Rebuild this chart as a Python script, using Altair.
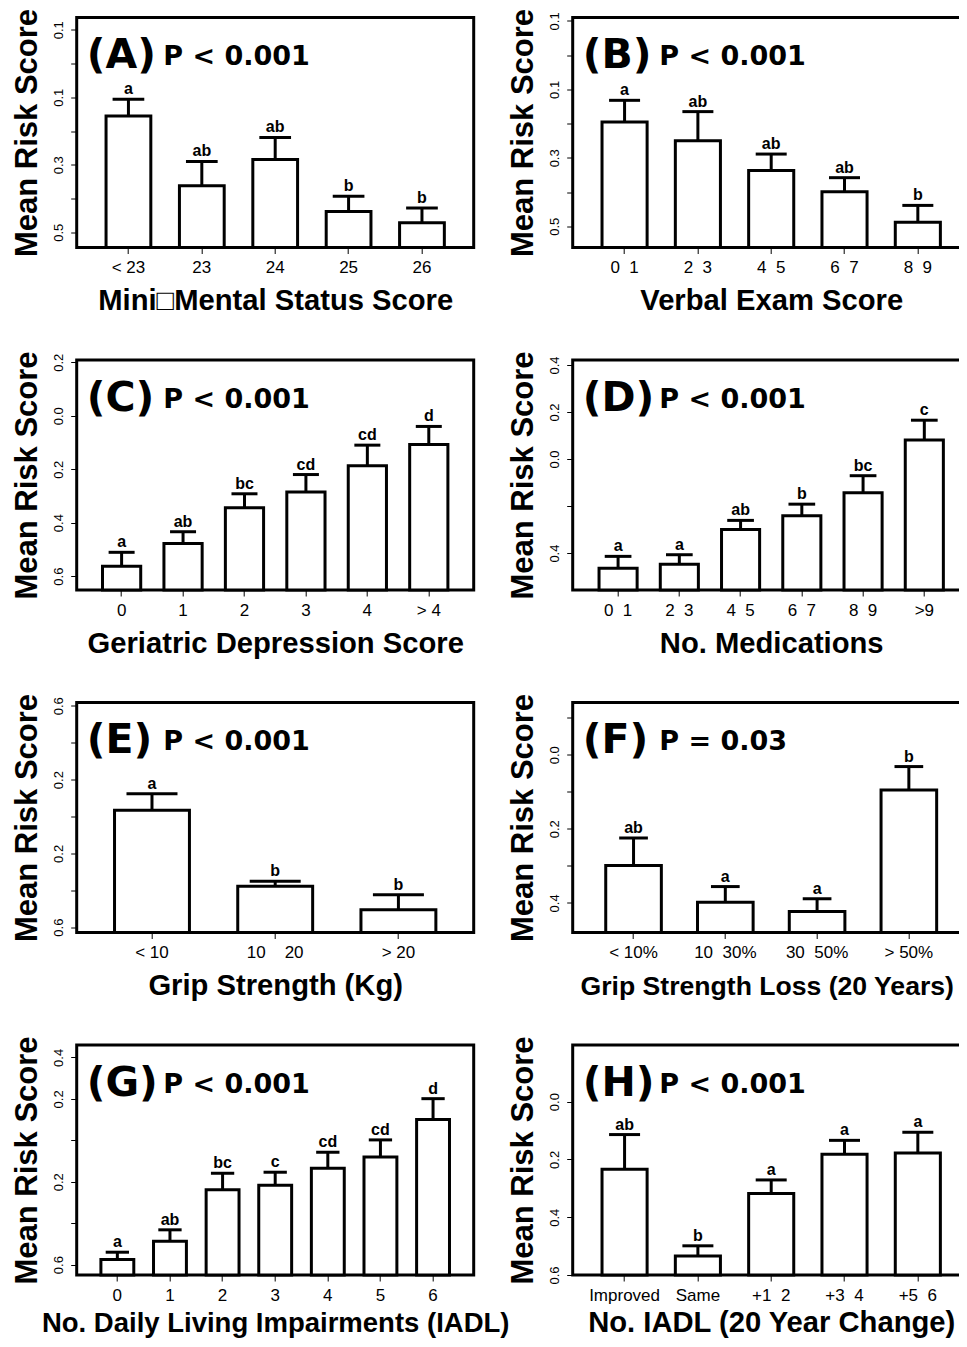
import altair as alt
import pandas as pd

NB = "\u00a0"

# ---------------- data ----------------
A_cats = ["< 23", "23", "24", "25", "26"]
A_means = [-0.155, -0.362, -0.284, -0.438, -0.472]
A_upper = [-0.106, -0.290, -0.219, -0.393, -0.428]
A_letters = ["a", "ab", "ab", "b", "b"]
A_ticks = [0.1, 0.0, -0.1, -0.2, -0.3, -0.4, -0.5]
A_labeled = [0.1, -0.1, -0.3, -0.5]
A_domain = [-0.545, 0.1365]

B_cats = ["0" + NB * 2 + "1", "2" + NB * 2 + "3", "4" + NB * 2 + "5", "6" + NB * 2 + "7", "8" + NB * 2 + "9"]
B_means = [-0.195, -0.250, -0.337, -0.399, -0.488]
B_upper = [-0.132, -0.165, -0.289, -0.358, -0.439]
B_letters = ["a", "ab", "ab", "ab", "b"]
B_ticks = [0.1, 0.0, -0.1, -0.2, -0.3, -0.4, -0.5]
B_labeled = [0.1, -0.1, -0.3, -0.5]
B_domain = [-0.562, 0.110]

C_cats = ["0", "1", "2", "3", "4", "> 4"]
C_means = [-0.563, -0.478, -0.344, -0.285, -0.187, -0.108]
C_upper = [-0.511, -0.434, -0.292, -0.220, -0.110, -0.040]
C_letters = ["a", "ab", "bc", "cd", "cd", "d"]
C_ticks = [0.2, 0.0, -0.2, -0.4, -0.6]
C_labeled = [0.2, 0.0, -0.2, -0.4, -0.6]
C_domain = [-0.652, 0.2086]

D_cats = ["0" + NB * 2 + "1", "2" + NB * 2 + "3", "4" + NB * 2 + "5", "6" + NB * 2 + "7", "8" + NB * 2 + "9", ">9"]
D_means = [-0.465, -0.448, -0.300, -0.241, -0.144, 0.081]
D_upper = [-0.414, -0.407, -0.261, -0.192, -0.071, 0.165]
D_letters = ["a", "a", "ab", "b", "bc", "c"]
D_ticks = [0.4, 0.2, 0.0, -0.2, -0.4]
D_labeled = [0.4, 0.2, 0.0, -0.4]
D_domain = [-0.557, 0.421]

E_cats = ["< 10", "10" + NB * 4 + "20", "> 20"]
E_means = [0.034, -0.378, -0.506]
E_upper = [0.123, -0.351, -0.424]
E_letters = ["a", "b", "b"]
E_ticks = [0.6, 0.4, 0.2, 0.0, -0.2, -0.4, -0.6]
E_labeled = [0.6, 0.2, -0.2, -0.6]
E_domain = [-0.629, 0.618]

F_cats = ["< 10%", "10" + NB * 2 + "30%", "30" + NB * 2 + "50%", "> 50%"]
F_means = [-0.299, -0.398, -0.423, -0.095]
F_upper = [-0.225, -0.356, -0.389, -0.032]
F_letters = ["ab", "a", "a", "b"]
F_ticks = [0.1, 0.0, -0.1, -0.2, -0.3, -0.4]
F_labeled = [0.0, -0.2, -0.4]
F_domain = [-0.480, 0.141]

G_cats = ["0", "1", "2", "3", "4", "5", "6"]
G_means = [-0.575, -0.487, -0.239, -0.217, -0.135, -0.080, 0.100]
G_upper = [-0.540, -0.432, -0.159, -0.154, -0.058, 0.002, 0.201]
G_letters = ["a", "ab", "bc", "c", "cd", "cd", "d"]
G_ticks = [0.4, 0.2, 0.0, -0.2, -0.4, -0.6]
G_labeled = [0.4, 0.2, -0.2, -0.6]
G_domain = [-0.650, 0.460]

H_cats = ["Improved", "Same", "+1" + NB * 2 + "2", "+3" + NB * 2 + "4", "+5" + NB * 2 + "6"]
H_means = [-0.234, -0.534, -0.318, -0.182, -0.178]
H_upper = [-0.114, -0.499, -0.271, -0.134, -0.106]
H_letters = ["ab", "b", "a", "a", "a"]
H_ticks = [0.0, -0.2, -0.4, -0.6]
H_labeled = [0.0, -0.2, -0.4, -0.6]
H_domain = [-0.600, 0.196]

panel_ids = ["(A)", "(B)", "(C)", "(D)", "(E)", "(F)", "(G)", "(H)"]
p_texts = ["P < 0.001", "P < 0.001", "P < 0.001", "P < 0.001", "P < 0.001", "P = 0.03", "P < 0.001", "P < 0.001"]
x_titles = [
    "Mini\u25a1Mental Status Score",
    "Verbal Exam Score",
    "Geriatric Depression Score",
    "No. Medications",
    "Grip Strength (Kg)",
    "Grip Strength Loss (20 Years)",
    "No. Daily Living Impairments (IADL)",
    "No. IADL (20 Year Change)",
]

# ---------------- styles ----------------
W, H = 397, 230
FONT = "Liberation Sans"
pad_inner = [0.39, 0.385, 0.378, 0.378, 0.392, 0.394, 0.375, 0.385]
pad_outer = [0.40, 0.40, 0.42, 0.43, 0.307, 0.36, 0.46, 0.40]
cap_len = [31.7, 31, 26, 26.7, 51, 28.7, 23.3, 31]
xtitle_size = [29.2, 29.2, 29.2, 29.2, 29.2, 26.6, 27.5, 29.2]
xtitle_x = [198.5, 198.5, 198.5, 198.5, 198.5, 194, 198.5, 198.5]
xtitle_y = [62, 62, 62, 62, 62, 62, 56, 56]

# page geometry: first frame top-left on the page, visible svg size
FRAME_LEFT, FRAME_TOP = 76.7, 17.5
SVG_W, SVG_H = 951, 1331


def label_expr(labeled):
    cond = " || ".join(f"abs(datum.value - ({v})) < 0.001" for v in labeled)
    return f"({cond}) ? format(abs(datum.value), '.1f') : ''"


def panel(i, cats, means, upper, letters, ticks, labeled, domain):
    df = pd.DataFrame({"cat": cats, "mean": means, "upper": upper, "letter": letters})
    xenc = alt.X(
        "cat:N",
        sort=cats,
        title=x_titles[i],
        scale=alt.Scale(paddingInner=pad_inner[i], paddingOuter=pad_outer[i]),
        axis=alt.Axis(
            labelAngle=0, labelFont=FONT, labelFontSize=17, labelColor="black",
            labelPadding=6, tickSize=6, tickColor="black", tickWidth=1,
            domain=False, grid=False, labelOverlap=False,
            titleFont=FONT, titleFontSize=xtitle_size[i], titleFontWeight="bold",
            titleColor="black", titleBaseline="alphabetic", titleAlign="center",
            titleX=xtitle_x[i], titleY=xtitle_y[i], titleLimit=1000,
        ),
    )
    yscale = alt.Scale(domain=domain, nice=False, zero=False)
    yaxis = alt.Axis(
        values=ticks, labelExpr=label_expr(labeled), labelAngle=270,
        labelAlign="center", labelBaseline="bottom", labelFont=FONT,
        labelFontSize=13, labelColor="black", labelPadding=5,
        labelOverlap=False, labelFlush=False, labelBound=False,
        tickSize=6, tickColor="black", tickWidth=1, domain=False, grid=False,
        titleFont=FONT, titleFontSize=31, titleFontWeight="bold", titleColor="black",
        titleAngle=270, titleAlign="center", titleBaseline="bottom",
        titleX=-33, titleY=H / 2, titleLimit=1000,
    )

    def Y(field):
        return alt.Y(f"{field}:Q", scale=yscale, axis=yaxis, title="Mean Risk Score")

    base = alt.Chart(df)
    bars = base.mark_bar(fill="white", stroke="black", strokeWidth=3).encode(
        x=xenc, y=Y("mean"), y2=alt.Y2(datum=domain[0])
    )
    err = base.mark_rule(color="black", strokeWidth=3).encode(
        x=xenc, y=Y("mean"), y2=alt.Y2("upper:Q")
    )
    cap = base.mark_tick(color="black", thickness=3, size=cap_len[i], opacity=1).encode(
        x=xenc, y=Y("upper")
    )
    lett = base.mark_text(
        font=FONT, fontSize=16, fontWeight="bold", color="black",
        baseline="alphabetic", dy=-5
    ).encode(x=xenc, y=Y("upper"), text="letter:N")

    lab = alt.Chart(alt.Data(values=[{"id": panel_ids[i], "p": p_texts[i]}]))
    id_txt = lab.mark_text(
        font="DejaVu Sans", fontSize=41, fontWeight="bold", color="black",
        align="left", baseline="alphabetic"
    ).encode(x=alt.value(10), y=alt.value(50.5), text="id:N")
    p_txt = lab.mark_text(
        font="DejaVu Sans", fontSize=27, fontWeight="bold", color="black",
        align="left", baseline="alphabetic"
    ).encode(x=alt.value(86.5), y=alt.value(47.5), text="p:N")

    return alt.layer(bars, err, cap, lett, id_txt, p_txt).properties(width=W, height=H)


charts = [
    panel(0, A_cats, A_means, A_upper, A_letters, A_ticks, A_labeled, A_domain),
    panel(1, B_cats, B_means, B_upper, B_letters, B_ticks, B_labeled, B_domain),
    panel(2, C_cats, C_means, C_upper, C_letters, C_ticks, C_labeled, C_domain),
    panel(3, D_cats, D_means, D_upper, D_letters, D_ticks, D_labeled, D_domain),
    panel(4, E_cats, E_means, E_upper, E_letters, E_ticks, E_labeled, E_domain),
    panel(5, F_cats, F_means, F_upper, F_letters, F_ticks, F_labeled, F_domain),
    panel(6, G_cats, G_means, G_upper, G_letters, G_ticks, G_labeled, G_domain),
    panel(7, H_cats, H_means, H_upper, H_letters, H_ticks, H_labeled, H_domain),
]

pad_left = FRAME_LEFT - 8
pad_top = FRAME_TOP - 8

chart = (
    alt.concat(*charts, columns=2, spacing={"row": 112.5, "column": 99}, bounds="flush")
    .properties(
        autosize=alt.AutoSizeParams(type="none"),
        padding={"left": pad_left, "top": pad_top,
                 "right": SVG_W - pad_left, "bottom": SVG_H - pad_top},
    )
    .configure(background="white")
    .configure_view(stroke="black", strokeWidth=3)
)

chart.save("out.html", embed_options={"renderer": "svg", "actions": False})
